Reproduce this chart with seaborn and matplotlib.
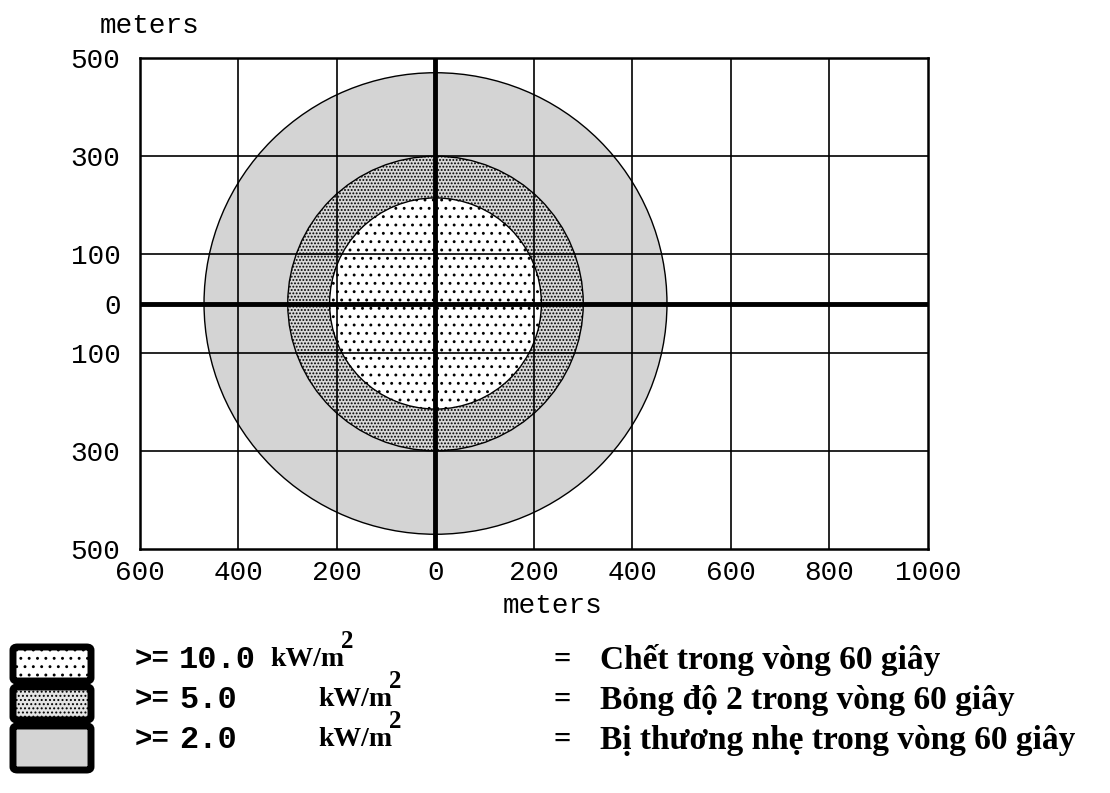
import matplotlib
matplotlib.use("Agg")
import matplotlib.pyplot as plt
from matplotlib.patches import Circle, FancyBboxPatch
import seaborn as sns

# Thermal radiation threat zones (radius in meters)
zone_radius = [470, 300, 215]
zone_flux = [2.0, 5.0, 10.0]
zone_face = ["#d4d4d4", "#d8d8d8", "white"]
zone_hatch = [None, ".....", ".."]

# Legend rows (top to bottom)
legend_flux = ["10.0", "5.0", "2.0"]
legend_desc = ["Chết trong vòng 60 giây",
               "Bỏng độ 2 trong vòng 60 giây",
               "Bị thương nhẹ trong vòng 60 giây"]
legend_face = ["white", "#e4e4e4", "#d4d4d4"]
legend_hatch = ["..", "....", None]

x_ticks = [-600, -400, -200, 0, 200, 400, 600, 800, 1000]
y_ticks = [-500, -300, -100, 0, 100, 300, 500]
x_grid = [-400, -200, 200, 400, 600, 800]
y_grid = [-300, -100, 100, 300]

sns.set_theme(style="white")
plt.rcParams["font.family"] = ["Liberation Mono", "DejaVu Sans"]
plt.rcParams["hatch.linewidth"] = 0.9

W, H = 1110, 793
fig = plt.figure(figsize=(W / 100, H / 100), dpi=100)
ax = fig.add_axes([140 / W, 1 - 549 / H, 788 / W, 491 / H])
ax.set_xlim(-600, 1000)
ax.set_ylim(-500, 500)

for r, fc, ht in zip(zone_radius, zone_face, zone_hatch):
    ax.add_patch(Circle((0, 0), r, facecolor=fc, edgecolor="black",
                        hatch=ht, linewidth=1.0, zorder=1))

for xv in x_grid:
    ax.axvline(xv, color="black", lw=1.2, zorder=2)
for yv in y_grid:
    ax.axhline(yv, color="black", lw=1.2, zorder=2)
ax.axvline(0, color="black", lw=3.5, zorder=3)
ax.axhline(0, color="black", lw=3.5, zorder=3)

ax.set_xticks(x_ticks)
ax.set_xticklabels([str(abs(v)) for v in x_ticks])
ax.set_yticks(y_ticks)
ax.set_yticklabels([str(abs(v)) for v in y_ticks])
ax.tick_params(axis="both", length=0, labelsize=20, colors="black")
ax.tick_params(axis="y", pad=14)
ax.tick_params(axis="x", pad=8)
for s in ax.spines.values():
    s.set_color("black")
    s.set_linewidth(1.8)
fig.text(553 / W, 1 - 606 / H, "meters", fontsize=20, ha="center",
         va="center", color="black")
fig.text(150 / W, 1 - 26 / H, "meters", fontsize=20, ha="center",
         va="center", color="black")

# Legend below the chart
row_y = [660, 700, 740]
box_y = [(645, 683), (685, 722), (724, 772)]
mono = "Liberation Mono"
serif = "Liberation Serif"
for i in range(3):
    y0, y1 = box_y[i]
    fig.patches.append(FancyBboxPatch(
        (13 / W, 1 - (y1 - 2) / H), 78 / W, (y1 - y0 - 4) / H,
        boxstyle="round,pad=0,rounding_size=0.004",
        transform=fig.transFigure, facecolor=legend_face[i],
        edgecolor="black", linewidth=5, hatch=legend_hatch[i]))
    yc = 1 - row_y[i] / H
    fig.text(135 / W, yc, ">=", family=mono, fontsize=21,
             fontweight="bold", va="center", color="black")
    fig.text(179 / W, yc, legend_flux[i], family=mono, fontsize=23,
             fontweight="bold", va="center", color="black")
    kx = 270 if i == 0 else 318
    fig.text(kx / W, yc, "kW/m", family=serif, fontsize=20,
             fontweight="bold", va="center", color="black")
    fig.text((kx + 71) / W, yc + 19 / H, "2", family=serif, fontsize=18,
             fontweight="bold", va="center", color="black")
    fig.text(562 / W, yc, "=", family=serif, fontsize=22,
             fontweight="bold", va="center", ha="center", color="black")
    fig.text(600 / W, yc, legend_desc[i], family=serif, fontsize=24,
             fontweight="bold", va="center", color="black")

fig.savefig("out.png", dpi=100, facecolor="white")
